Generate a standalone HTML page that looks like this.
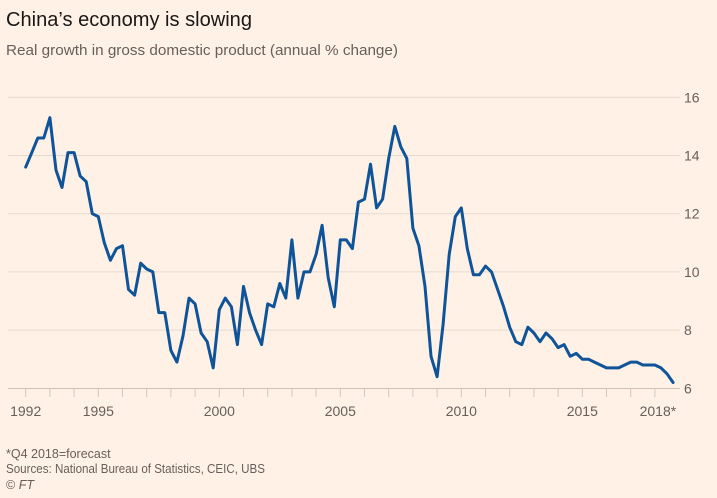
<!DOCTYPE html>
<html><head><meta charset="utf-8"><style>
html,body{margin:0;padding:0;background:#fff1e5;}
svg{display:block;font-family:"Liberation Sans",sans-serif;}
</style></head><body>
<svg id="s" width="717" height="498" viewBox="0 0 717 498" xmlns="http://www.w3.org/2000/svg">
<rect width="717" height="498" fill="#fff1e5"/>
<text x="6" y="26" font-size="20" fill="#1a1817" textLength="246" lengthAdjust="spacingAndGlyphs">China’s economy is slowing</text>
<text x="6" y="55" font-size="15" fill="#66605c" textLength="392" lengthAdjust="spacingAndGlyphs">Real growth in gross domestic product (annual % change)</text>
<g id="grid" stroke="#e6d9ce" stroke-width="1"></g>
<g id="ylab" font-size="14" fill="#66605c"></g>
<g id="xt" stroke="#d4c8bd" stroke-width="1"></g>
<g id="xlab" font-size="14" fill="#66605c" text-anchor="middle"></g>
<path id="line" fill="none" stroke="#0f5499" stroke-width="3" stroke-linejoin="round" stroke-linecap="round"/>
<text x="6" y="458" font-size="12.5" fill="#66605c">*Q4 2018=forecast</text>
<text x="6" y="473" font-size="12.5" fill="#66605c" textLength="259" lengthAdjust="spacingAndGlyphs">Sources: National Bureau of Statistics, CEIC, UBS</text>
<text x="6" y="489" font-size="12.5" fill="#66605c">© <tspan font-style="italic">FT</tspan></text>
</svg>
<script>
var NS="http://www.w3.org/2000/svg";
function el(t,a,p,txt){var e=document.createElementNS(NS,t);for(var k in a)e.setAttribute(k,a[k]);if(txt!=null)e.textContent=txt;document.getElementById(p).appendChild(e);}
function Y(v){return 388.3-(v-6)*29.1;}
function X(i){return 25.7+i*6.05;}
for(var v=8;v<=16;v+=2){el("line",{x1:8,x2:680,y1:Y(v),y2:Y(v)},"grid");}
el("line",{x1:8,x2:680,y1:388.5,y2:388.5,stroke:"#cfc3b8"},"grid");
for(var v=6;v<=16;v+=2){el("text",{x:684,y:Y(v)+5},"ylab",String(v));}
for(var y=1992;y<=2018;y++){var x=X((y-1992)*4);el("line",{x1:x,x2:x,y1:389,y2:397},"xt");}
[[1992,"1992"],[1995,"1995"],[2000,"2000"],[2005,"2005"],[2010,"2010"],[2015,"2015"],[2018,"2018*"]].forEach(function(a){el("text",{x:X((a[0]-1992)*4)+(a[0]==2018?3:0),y:416},"xlab",a[1]);});
var d=[13.6,14.1,14.6,14.6,15.3,13.5,12.9,14.1,14.1,13.3,13.1,12.0,11.9,11.0,10.4,10.8,10.9,9.4,9.2,10.3,10.1,10.0,8.6,8.6,7.3,6.9,7.8,9.1,8.9,7.9,7.6,6.7,8.7,9.1,8.8,7.5,9.5,8.6,8.0,7.5,8.9,8.8,9.6,9.1,11.1,9.1,10.0,10.0,10.6,11.6,9.8,8.8,11.1,11.1,10.8,12.4,12.5,13.7,12.2,12.5,13.9,15.0,14.3,13.9,11.5,10.9,9.5,7.1,6.4,8.2,10.6,11.9,12.2,10.8,9.9,9.9,10.2,10.0,9.4,8.8,8.1,7.6,7.5,8.1,7.9,7.6,7.9,7.7,7.4,7.5,7.1,7.2,7.0,7.0,6.9,6.8,6.7,6.7,6.7,6.8,6.9,6.9,6.8,6.8,6.8,6.7,6.5,6.2];
var p="";d.forEach(function(v,i){p+=(i?"L":"M")+X(i).toFixed(1)+" "+Y(v).toFixed(1);});
document.getElementById("line").setAttribute("d",p);
</script>
</body></html>
